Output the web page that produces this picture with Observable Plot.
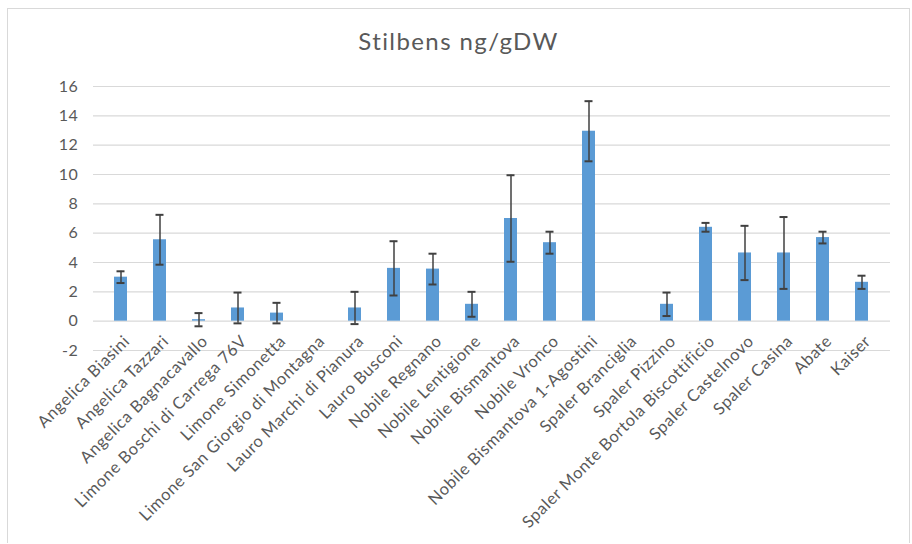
<!DOCTYPE html>
<html>
<head>
<meta charset="utf-8">
<script src="https://cdn.jsdelivr.net/npm/d3@7"></script>
<script src="https://cdn.jsdelivr.net/npm/@observablehq/plot@0.6"></script>
<style>
  html, body { margin: 0; padding: 0; background: #fff; }
  #frame {
    position: absolute; left: 7px; top: 8px; width: 903px; height: 535px;
    border: 1px solid #d9d9d9; box-sizing: border-box; background: #fff;
  }
  #title {
    height: 59px; box-sizing: border-box; padding-top: 18px;
    text-align: center; font-family: Lato, sans-serif; font-size: 24px;
    letter-spacing: 1.4px; color: #595959; line-height: 28px;
  }
  svg { display: block; }
</style>
</head>
<body>
<div id="frame">
  <div id="title">Stilbens ng/gDW</div>
  <div id="chart"></div>
</div>
<script>
const categories = [
  "Angelica Biasini", "Angelica Tazzari", "Angelica Bagnacavallo",
  "Limone Boschi di Carrega 76V", "Limone Simonetta", "Limone San Giorgio di Montagna",
  "Lauro Marchi di Pianura", "Lauro Busconi", "Nobile Regnano", "Nobile Lentigione",
  "Nobile Bismantova", "Nobile Vronco", "Nobile Bismantova 1-Agostini",
  "Spaler Branciglia", "Spaler Pizzino", "Spaler Monte Bortola Biscottificio",
  "Spaler Castelnovo", "Spaler Casina", "Abate", "Kaiser"
];
const values = [3.0, 5.55, 0.1, 0.9, 0.55, 0, 0.9, 3.6, 3.55, 1.15, 7.0, 5.35, 12.95, 0, 1.15, 6.4, 4.65, 4.65, 5.7, 2.65];
const errors = [0.4, 1.7, 0.45, 1.05, 0.7, 0, 1.1, 1.85, 1.05, 0.85, 2.95, 0.75, 2.05, 0, 0.8, 0.3, 1.85, 2.45, 0.4, 0.45];
const yTicks = [-2, 0, 2, 4, 6, 8, 10, 12, 14, 16];

const data = categories.map((c, i) => ({name: c, value: values[i], err: errors[i]}));
const withErr = data.filter(d => d.err > 0);

const chart = Plot.plot({
  width: 901,
  height: 475,
  marginLeft: 85,
  marginRight: 19,
  marginTop: 18,
  marginBottom: 193,
  style: {fontFamily: "Lato, sans-serif", color: "#595959", background: "#fff"},
  x: {domain: categories, paddingInner: 0.66, paddingOuter: 0.33, label: null, axis: null},
  y: {domain: [-2, 16], label: null, axis: null},
  marks: [
    Plot.ruleY(yTicks, {stroke: "#d9d9d9", strokeWidth: 1.2}),
    Plot.barY(data, {x: "name", y: "value", fill: "#5b9bd5"}),
    Plot.ruleX(withErr, {x: "name", y1: d => d.value - d.err, y2: d => d.value + d.err, stroke: "#404040", strokeWidth: 1.5}),
    Plot.tickY(withErr, {x: "name", y: d => d.value + d.err, stroke: "#404040", strokeWidth: 2, insetLeft: 2.5, insetRight: 2.5}),
    Plot.tickY(withErr, {x: "name", y: d => d.value - d.err, stroke: "#404040", strokeWidth: 2, insetLeft: 2.5, insetRight: 2.5}),
    Plot.text(yTicks, {y: d => d, frameAnchor: "left", textAnchor: "end", dx: -15, fontSize: 16, fill: "#595959",
      text: d => String(d)}),
    Plot.text(categories, {x: d => d, frameAnchor: "bottom", rotate: -45, textAnchor: "end", lineAnchor: "middle",
      dx: 6, dy: -12, fontSize: 16.5, fill: "#595959", text: d => d})
  ]
});
chart.querySelectorAll("text").forEach(t => t.style.letterSpacing = "0.6px");
document.getElementById("chart").appendChild(chart);
</script>
</body>
</html>
